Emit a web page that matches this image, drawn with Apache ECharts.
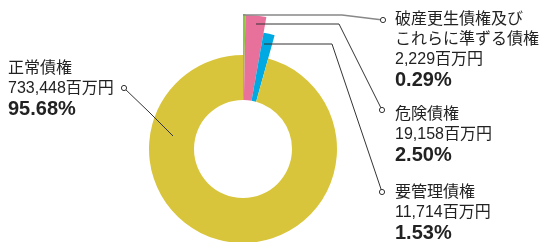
<!DOCTYPE html>
<html>
<head>
<meta charset="utf-8">
<script src="https://cdn.jsdelivr.net/npm/echarts@6/dist/echarts.min.js"></script>
<style>
  html, body { margin: 0; padding: 0; background: #fff; }
  #chart { width: 541px; height: 242px; }
</style>
</head>
<body>
<div id="chart"></div>
<script>
// data (百万円), clockwise from 12 o'clock
const names = ["破産更生債権及び\nこれらに準ずる債権", "危険債権", "要管理債権", "正常債権"];
const values = [2229, 19158, 11714, 733448];
const colors = ["#8dc63f", "#e8719b", "#00a9e1", "#d9c53b"];

// layout
const center = [243, 149];
const innerR = 49;
const outerR = [135, 134, 118, 94];
const labelPos = [[395, 10], [395, 105], [395, 183], [8, 59]];
const leaders = [
  [[243, 15], [342, 15], [383, 20]],
  [[256, 24], [339, 24], [382, 110]],
  [[264, 44], [332, 44], [382, 192]],
  [[173, 136], [149, 112], [124, 88]]
];
const lineColors = ["#888", "#333", "#333", "#333"];

const total = values.reduce((a, b) => a + b, 0);
const font = '"Liberation Sans", "Noto Sans CJK JP", sans-serif';

const chart = echarts.init(document.getElementById("chart"));

// one ring per slice so each slice gets its own outer radius
const rings = values.map((v, i) => ({
  type: "pie",
  center: center,
  radius: [innerR, outerR[i]],
  startAngle: 90,
  clockwise: true,
  silent: true,
  itemStyle: { borderWidth: 0 },
  label: { show: false },
  labelLine: { show: false },
  data: values.map((v2, j) => ({
    name: names[j],
    value: v2,
    itemStyle: { color: j === i ? colors[j] : "rgba(0,0,0,0)" }
  }))
}));

// transparent overlay that carries the labels and leader lines on top
const labels = {
  type: "pie",
  center: center,
  radius: [innerR, 94],
  startAngle: 90,
  clockwise: true,
  silent: true,
  avoidLabelOverlap: false,
  z: 5,
  itemStyle: { color: "rgba(0,0,0,0)", borderWidth: 0 },
  label: {
    show: true,
    formatter: (p) => {
      const lines = p.name.split("\n").map((s) => "{t|" + s + "}");
      lines.push("{t|" + p.value.toLocaleString("en-US") + "百万円}");
      lines.push("{p|" + (p.value / total * 100).toFixed(2) + "%}");
      return lines.join("\n");
    },
    rich: {
      t: { fontSize: 16, lineHeight: 20, color: "#222", fontFamily: font },
      p: { fontSize: 20, lineHeight: 20, fontWeight: "bold", color: "#222", fontFamily: font }
    }
  },
  labelLine: { show: true, lineStyle: { color: "#333", width: 1 } },
  data: values.map((v, j) => ({
    name: names[j],
    value: v,
    labelLine: { lineStyle: { color: lineColors[j], width: j === 0 ? 1.5 : 1 } }
  })),
  labelLayout: (p) => ({
    x: labelPos[p.dataIndex][0],
    y: labelPos[p.dataIndex][1],
    align: "left",
    verticalAlign: "top",
    labelLinePoints: leaders[p.dataIndex]
  })
};

chart.setOption({
  animation: false,
  series: rings.concat([labels]),
  graphic: leaders.map((pts) => ({
    type: "circle",
    z: 100,
    shape: { cx: pts[2][0], cy: pts[2][1], r: 2.6 },
    style: { fill: "#fff", stroke: "#333", lineWidth: 1 }
  }))
});
</script>
</body>
</html>
